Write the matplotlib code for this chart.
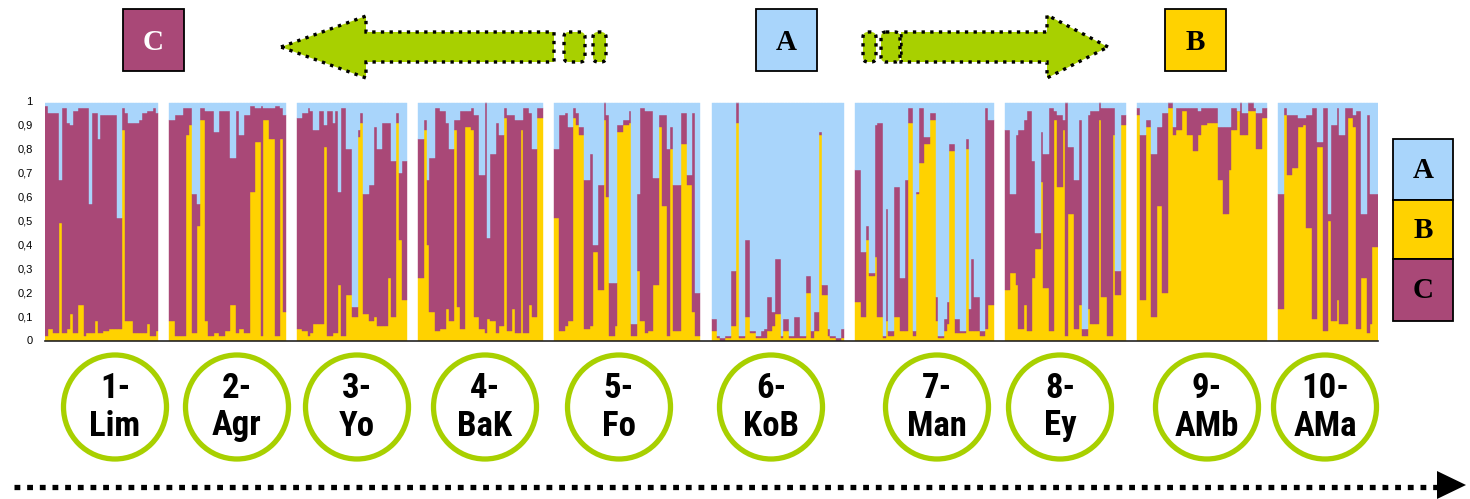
import matplotlib
matplotlib.use("Agg")
import matplotlib.pyplot as plt
from matplotlib import font_manager
from matplotlib.font_manager import FontProperties
from matplotlib.patches import Polygon, Rectangle, Ellipse, FancyBboxPatch
import numpy as np

W, H = 1470, 499

# cluster colours
col_a = "#a9d5fb"
col_b = "#ffd200"
col_c = "#a94877"
green = "#a8d000"

pop_labels = ["1-\nLim", "2-\nAgr", "3-\nYo", "4-\nBaK", "5-\nFo",
              "6-\nKoB", "7-\nMan", "8-\nEy", "9-\nAMb", "10-\nAMa"]
circle_x = [115, 237, 357, 485, 619, 771, 937, 1060, 1207, 1325]

# membership per individual: b = share of cluster B, bc = B + C (cumulative)
lim_b = [.02, .05, .05, .03, .03, .49, .03, .03, .05, .11, .03, .03, .15, .15, .02, .03, .03, .03, .08, .03,
         .03, .04, .04, .05, .05, .05, .05, .05, .88, .08, .08, .08, .03, .03, .03, .03, .03, .07, .02, .02, .04]
lim_bc = [.98, .95, .95, .95, .95, .67, .97, .97, .91, .90, .96, .96, .97, .97, .97, .97, .57, .95, .95, .84,
          .94, .94, .94, .94, .94, .94, .51, .51, .97, .95, .91, .91, .91, .91, .92, .95, .95, .96, .96, .97, .95]

agr_b = [.08, .08, .02, .02, .02, .02, .86, .90, .03, .03, .48, .92, .92, .08, .02, .02, .03, .03, .02, .02,
         .04, .04, .15, .15, .03, .05, .05, .03, .03, .62, .62, .83, .83, .02, .92, .92, .84, .84, .02, .02, .84, .12]
agr_bc = [.92, .92, .94, .94, .94, .97, .97, .97, .61, .61, .57, .97, .97, .96, .96, .96, .87, .87, .96, .96,
          .96, .96, .76, .76, .96, .86, .86, .94, .94, .98, .98, .97, .97, .98, .97, .97, .97, .97, .98, .98, .97, .94]

yo_b = [.05, .05, .04, .04, .02, .03, .07, .07, .07, .07, .81, .02, .02, .03, .03, .23, .02, .02, .19, .19,
        .10, .10, .85, .91, .11, .11, .08, .08, .10, .06, .06, .06, .06, .26, .10, .10, .91, .42, .17, .17]
yo_bc = [.93, .93, .95, .95, .97, .96, .88, .88, .96, .96, .90, .96, .96, .91, .96, .62, .97, .97, .80, .80,
         .14, .14, .88, .95, .61, .61, .65, .65, .89, .80, .80, .91, .91, .91, .75, .75, .95, .70, .75, .75]

bak_b = [.26, .26, .88, .40, .12, .12, .04, .04, .05, .05, .13, .08, .08, .88, .14, .05, .05, .89, .89, .88,
         .10, .10, .05, .05, .03, .09, .08, .08, .03, .06, .06, .93, .04, .04, .13, .03, .03, .88, .03, .03,
         .15, .10, .10, .93, .93]
bak_bc = [.84, .84, .92, .67, .76, .76, .97, .97, .96, .96, .91, .80, .80, .92, .92, .96, .96, .96, .96, .97,
          .94, .94, .69, .69, .99, .43, .78, .78, .91, .86, .86, .97, .94, .94, .94, .92, .92, .92, .97, .97,
          .95, .80, .80, .97, .97]

fo_b = [.51, .51, .04, .04, .06, .08, .08, .93, .90, .86, .86, .05, .05, .06, .37, .37, .21, .21, .92, .60,
        .02, .02, .06, .87, .87, .90, .90, .91, .02, .02, .29, .08, .08, .03, .04, .04, .23, .23, .89, .56,
        .56, .02, .80, .04, .04, .04, .82, .82, .65, .65, .12, .02, .02]
fo_bc = [.80, .80, .94, .94, .95, .89, .89, .97, .95, .89, .89, .67, .67, .78, .40, .40, .65, .65, .99, .94,
         .24, .24, .24, .90, .90, .92, .92, .96, .07, .07, .61, .97, .97, .96, .96, .96, .68, .68, .94, .94,
         .94, .80, .89, .65, .65, .65, .95, .95, .69, .69, .95, .20, .20]

kob_b = [.04, .04, .01, 0, 0, .01, .01, .06, .06, .91, .01, .01, .10, .10, .03, .03, .01, .01, .01, .01,
         .04, .04, .06, .11, .11, .01, .04, .04, .01, .01, .01, .01, .01, .01, .20, .20, .01, .04, .04, .86,
         .19, .19, .02, .01, .01, 0, 0, .01]
kob_bc = [.09, .09, .02, .01, .01, .02, .02, .29, .29, .99, .02, .02, .42, .42, .04, .04, .02, .02, .04, .05,
          .18, .18, .12, .34, .34, .02, .09, .09, .02, .02, .10, .10, .02, .02, .27, .27, .04, .12, .12, .87,
          .23, .23, .05, .02, .02, .01, .01, .05]

man_b = [.16, .16, .10, .10, .42, .27, .27, .35, .10, .10, .01, .08, .02, .02, .10, .10, .04, .04, .04, .91,
         .91, .02, .61, .74, .74, .82, .82, .92, .92, .08, .01, .01, .04, .07, .79, .79, .03, .03, .03, .03,
         .80, .04, .04, .04, .04, .02, .02, .05, .15, .15]
man_bc = [.71, .71, .37, .37, .48, .28, .28, .90, .91, .91, .02, .55, .04, .04, .64, .64, .26, .26, .67, .97,
          .97, .04, .62, .97, .97, .85, .85, .95, .95, .18, .02, .02, .09, .16, .82, .82, .09, .09, .04, .04,
          .84, .13, .34, .18, .18, .04, .04, .97, .92, .92]

ey_b = [.21, .21, .28, .28, .23, .05, .05, .15, .04, .04, .26, .38, .38, .66, .22, .22, .04, .04, .92, .64,
        .64, .88, .02, .53, .53, .05, .05, .15, .02, .02, .13, .07, .07, .07, .92, .18, .18, .02, .02, .86,
        .19, .19, .90, .90]
ey_bc = [.88, .88, .61, .61, .86, .88, .88, .92, .96, .96, .75, .45, .45, .87, .78, .78, .97, .97, .96, .94,
         .94, .92, .99, .81, .81, .67, .67, .92, .05, .05, .94, .96, .96, .96, .99, .97, .97, .97, .97, .97,
         .29, .29, .94, .94]

amb_b = [.94, .17, .17, .89, .89, .10, .10, .56, .56, .20, .20, .97, .97, .86, .88, .88, .96, .96, .86, .86,
         .79, .79, .86, .90, .90, .91, .91, .91, .91, .67, .67, .53, .53, .71, .88, .88, .96, .86, .86, .86,
         .96, .96, .96, .80, .80, .93, .93]
amb_bc = [.97, .86, .86, .92, .92, .78, .78, .89, .89, .95, .95, .99, .99, .89, .97, .97, .97, .97, .97, .97,
          .97, .97, .96, .97, .97, .97, .97, .97, .97, .89, .89, .89, .89, .89, .97, .97, .96, .99, .95, .95,
          .99, .99, .97, .95, .95, .97, .97]

ama_b = [.13, .13, .94, .69, .69, .72, .72, .89, .89, .90, .47, .47, .09, .09, .81, .81, .04, .04, .50, .08,
         .08, .17, .07, .07, .07, .93, .93, .89, .05, .05, .26, .26, .03, .07, .39, .39]
ama_bc = [.61, .61, .97, .94, .94, .94, .94, .93, .93, .93, .94, .94, .97, .97, .83, .83, .97, .97, .53, .90,
          .90, .97, .86, .86, .97, .97, .97, .94, .96, .96, .53, .53, .94, .61, .61, .61]

b_all = [lim_b, agr_b, yo_b, bak_b, fo_b, kob_b, man_b, ey_b, amb_b, ama_b]
bc_all = [lim_bc, agr_bc, yo_bc, bak_bc, fo_bc, kob_bc, man_bc, ey_bc, amb_bc, ama_bc]
top = 0.99
gap = 4


def condensed_bold():
    # look for a narrow bold sans among the installed families
    for fam in ["Liberation Sans Narrow", "Roboto Condensed", "Noto Sans", "Open Sans", "Roboto", "Inter"]:
        fp = FontProperties(family=fam, weight="bold", stretch="condensed")
        try:
            path = font_manager.findfont(fp, fallback_to_default=False)
        except ValueError:
            continue
        low = path.lower()
        if "narrow" in low or "condensed" in low:
            return fam
    return None


narrow = condensed_bold()
label_font = narrow if narrow else "Liberation Sans"
label_size = 25 if narrow else 21

fig = plt.figure(figsize=(W / 100, H / 100), dpi=100)

# ---- STRUCTURE bar plot ----
ax = fig.add_axes([45 / W, (H - 340.5) / H, 1333 / W, 239.5 / H])
pos = 0
for b, bc in zip(b_all, bc_all):
    b = np.array(b)
    bc = np.array(bc)
    x = pos + np.arange(len(b))
    kw = dict(width=1.0, align="edge", linewidth=0.3)
    ax.bar(x, b, color=col_b, edgecolor=col_b, **kw)
    ax.bar(x, bc - b, bottom=b, color=col_c, edgecolor=col_c, **kw)
    ax.bar(x, top - bc, bottom=bc, color=col_a, edgecolor=col_a, **kw)
    pos += len(b) + gap
ax.set_xlim(0, pos - gap)
ax.set_ylim(0, 1)
ax.set_yticks(np.arange(0, 1.01, 0.1))
ax.set_yticklabels(["0"] + ["0,%d" % i for i in range(1, 10)] + ["1"],
                   fontsize=8, family="Liberation Sans")
ax.tick_params(axis="y", length=0, pad=9)
ax.set_xticks([])
for s in ["top", "right", "left"]:
    ax.spines[s].set_visible(False)
ax.spines["bottom"].set_color("#222222")
ax.spines["bottom"].set_linewidth(1.2)

# ---- drawing layer in pixel units ----
ov = fig.add_axes([0, 0, 1, 1])
ov.set_xlim(0, W)
ov.set_ylim(H, 0)
ov.axis("off")

dot = dict(edgecolor="black", linewidth=2.4, linestyle=(0, (1, 1.6)), facecolor=green)

# arrow pointing left (towards C)
ov.add_patch(Polygon([(281, 47), (366, 16), (366, 32), (554, 32), (554, 62), (366, 62), (366, 78)],
                     closed=True, joinstyle="miter", **dot))
for x0, x1 in [(564, 585), (593, 606)]:
    ov.add_patch(FancyBboxPatch((x0, 32), x1 - x0, 30, boxstyle="round,pad=0,rounding_size=5", **dot))

# arrow pointing right (towards B)
ov.add_patch(Polygon([(1108, 47), (1047, 15), (1047, 32), (901, 32), (901, 62), (1047, 62), (1047, 78)],
                     closed=True, joinstyle="miter", **dot))
for x0, x1 in [(863, 876), (881, 900)]:
    ov.add_patch(FancyBboxPatch((x0, 32), x1 - x0, 30, boxstyle="round,pad=0,rounding_size=5", **dot))

# cluster boxes on top
serif = dict(family="Liberation Serif", fontweight="bold", fontsize=21, ha="center", va="center")
for x0, name, fc, tc in [(123, "C", col_c, "white"), (756, "A", col_a, "black"), (1165, "B", col_b, "black")]:
    ov.add_patch(Rectangle((x0, 9), 61, 62, facecolor=fc, edgecolor="black", linewidth=1.3))
    ov.text(x0 + 30.5, 42, name, color=tc, **serif)

# legend column
for y0, y1, name, fc in [(139, 200, "A", col_a), (200, 259, "B", col_b), (259, 321, "C", col_c)]:
    ov.add_patch(Rectangle((1393, y0), 60, y1 - y0, facecolor=fc, edgecolor="black", linewidth=1.3))
    ov.text(1423, (y0 + y1) / 2 + 1, name, color="black", **serif)

# population circles
for cx, lab in zip(circle_x, pop_labels):
    ov.add_patch(Ellipse((cx, 407), 103, 104, facecolor="none", edgecolor=green, linewidth=3.8))
    first, second = lab.split("\n")
    ov.text(cx, 388, first, fontsize=label_size, family=label_font, fontweight="bold",
            fontstretch="condensed", ha="center", va="center")
    ov.text(cx, 426, second, fontsize=label_size, family=label_font, fontweight="bold",
            fontstretch="condensed", ha="center", va="center")

# dotted axis arrow along the bottom
ov.plot([14, 1438], [487, 487], color="black", linewidth=3.8, linestyle=(0, (1.1, 1.3)),
        solid_capstyle="butt", dash_capstyle="butt")
ov.add_patch(Polygon([(1437, 471), (1466, 485), (1437, 499)], closed=True, facecolor="black",
                     edgecolor="none"))

fig.savefig("out.png", dpi=100)
